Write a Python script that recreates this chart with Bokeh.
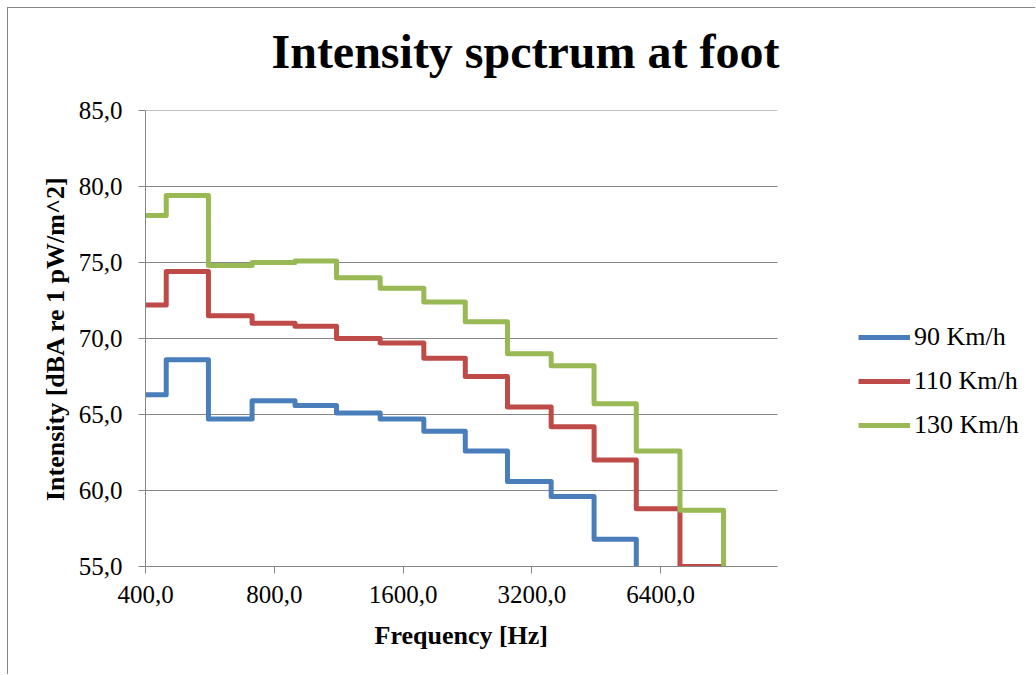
from bokeh.plotting import figure
from bokeh.models import (FixedTicker, CustomJSTickFormatter, Legend, LegendItem,
                          Range1d, ColumnDataSource, Title)
from bokeh.embed import file_html
from bokeh.resources import INLINE

# ---- data ----
band_centres = [400, 500, 630, 800, 1000, 1250, 1600, 2000, 2500, 3150, 4000, 5000, 6300, 8000]
series_names = ["90 Km/h", "110 Km/h", "130 Km/h"]
level_90 = [66.3, 68.6, 64.7, 65.9, 65.6, 65.1, 64.7, 63.9, 62.6, 60.6, 59.6, 56.8]
level_110 = [72.2, 74.4, 71.5, 71.0, 70.8, 70.0, 69.7, 68.7, 67.5, 65.5, 64.2, 62.0, 58.8, 55.0]
level_130 = [78.1, 79.4, 74.8, 75.0, 75.1, 74.0, 73.3, 72.4, 71.1, 69.0, 68.2, 65.7, 62.6, 58.7]
x_ticks = [400, 800, 1600, 3200, 6400]
y_ticks = [55, 60, 65, 70, 75, 80, 85]
X_MIN, X_MAX = 400, 12000
Y_MIN, Y_MAX = 55, 85

colors = ["#4A7EBB", "#BE4B48", "#98B954"]
FONT = "Liberation Serif"

# layout (canvas pixels)
W, H = 1028, 667
PLOT_W = 632          # width of the axis area in pixels
LEFT = 137
EXTRA_W = W - LEFT - PLOT_W   # area to the right that holds the legend
# the frame extends to the right edge; data range widened so that the
# axis area (X_MIN..X_MAX) keeps PLOT_W pixels
X_FRAME_END = X_MAX * (X_MAX / X_MIN) ** (EXTRA_W / PLOT_W)


def step_path(levels):
    """Third-octave step outline: each band level held between band edges."""
    n = len(levels)
    edges = [band_centres[0]]
    for i in range(n):
        f = band_centres[i]
        if i + 1 < len(band_centres):
            upper = (f * band_centres[i + 1]) ** 0.5
        else:
            upper = f * 10 ** 0.05
        edges.append(upper)
    xs, ys = [], []
    for i in range(n):
        xs += [edges[i], edges[i + 1]]
        ys += [levels[i], levels[i]]
    xs.append(edges[-1])
    ys.append(Y_MIN)
    return xs, ys


p = figure(width=W, height=H, x_axis_type="log",
           x_range=Range1d(X_MIN, X_FRAME_END), y_range=Range1d(Y_MIN, Y_MAX),
           output_backend="svg", toolbar_location=None,
           min_border_left=LEFT, min_border_right=0,
           min_border_top=102, min_border_bottom=109,
           styles={"margin-left": "7px", "margin-top": "7px",
                   "border-left": "1px solid #868686",
                   "border-top": "1px solid #868686"})

p.outline_line_color = None
p.background_fill_color = "white"
p.border_fill_color = "white"

# spacer between frame and title (pushes the title upward)
p.add_layout(Title(text=" ", text_font_size="28px", standoff=0), "above")

# title
p.title.text = "Intensity spctrum at foot"
p.title.text_font = FONT
p.title.text_font_size = "48px"
p.title.text_font_style = "bold"
p.title.text_color = "black"
p.title.align = "left"
p.title.offset = 126
p.title.standoff = 0

# axes
grey = "#868686"
for ax in (p.xaxis[0], p.yaxis[0]):
    ax.axis_line_color = grey
    ax.major_tick_line_color = grey
    ax.minor_tick_line_color = None
    ax.major_tick_in = 0
    ax.major_tick_out = 7
    ax.major_label_text_font = FONT
    ax.major_label_text_font_size = "25px"
    ax.major_label_text_color = "black"
    ax.axis_label_text_font = FONT
    ax.axis_label_text_font_size = "26px"
    ax.axis_label_text_font_style = "bold"
    ax.axis_label_text_color = "black"

p.xaxis.ticker = FixedTicker(ticks=x_ticks)
p.xaxis.bounds = (X_MIN, X_MAX)
p.yaxis.ticker = FixedTicker(ticks=y_ticks)
fmt_code = "return tick.toFixed(1).replace('.', ',');"
p.xaxis.formatter = CustomJSTickFormatter(code=fmt_code)
p.yaxis.formatter = CustomJSTickFormatter(code=fmt_code)
p.xaxis.major_label_standoff = 12
p.yaxis.major_label_standoff = 16
p.yaxis.axis_label = "Intensity [dBA re 1 pW/m^2]"
p.yaxis.axis_label_standoff = 6

# spacer between tick labels and the x-axis title
p.add_layout(Title(text=" ", text_font_size="10px", standoff=0), "below")
# x-axis title, centred under the axis area
xt = Title(text="Frequency [Hz]", text_font=FONT, text_font_size="26px",
           text_font_style="bold", text_color="black", align="left",
           offset=229, standoff=0)
p.add_layout(xt, "below")

# horizontal gridlines only across the axis area
p.xgrid.visible = False
p.ygrid.visible = False
p.segment(x0=[X_MIN] * len(y_ticks), x1=[X_MAX] * len(y_ticks),
          y0=y_ticks, y1=y_ticks, line_color=grey, line_width=1)

items = []
for name, levels, col in zip(series_names, [level_90, level_110, level_130], colors):
    xs, ys = step_path(levels)
    src = ColumnDataSource(dict(x=xs, y=ys))
    r = p.line("x", "y", source=src, line_color=col, line_width=5, line_join="round")
    items.append(LegendItem(label=name, renderers=[r]))

legend = Legend(items=items, location=(713, 119))
legend.border_line_color = None
legend.background_fill_alpha = 0
legend.label_text_font = FONT
legend.label_text_font_size = "26px"
legend.label_text_color = "black"
legend.glyph_width = 52
legend.glyph_height = 44
legend.label_height = 44
legend.spacing = 0
legend.padding = 0
legend.margin = 0
legend.label_standoff = 4
p.add_layout(legend)

open("out.html", "w").write(file_html(p, INLINE))
